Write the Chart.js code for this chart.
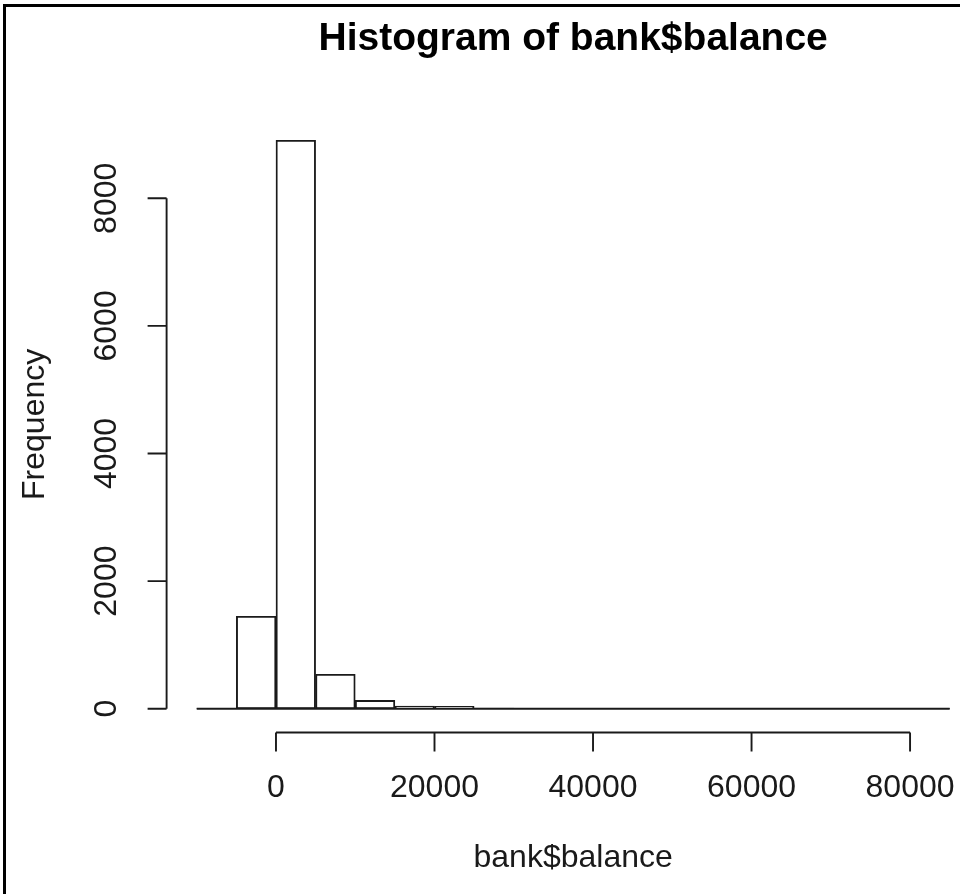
<!DOCTYPE html>
<html>
<head>
<meta charset="utf-8">
<script src="https://cdn.jsdelivr.net/npm/chart.js@4/dist/chart.umd.min.js"></script>
<style>
  html, body { margin: 0; padding: 0; background: #fff; overflow: hidden; }
  #wrap { width: 960px; height: 894px; position: relative; }
</style>
</head>
<body>
<div id="wrap"><canvas id="c" width="960" height="894"></canvas></div>
<script>
// ---- data ----
const binStarts = [-10000, -5000, 0, 5000, 10000, 15000, 20000, 25000, 30000, 35000,
                   40000, 45000, 50000, 55000, 60000, 65000, 70000, 75000, 80000];
const binWidth = 5000;
const counts = [2, 1450, 8910, 540, 130, 42, 36, 10, 7, 5, 3, 2, 1, 1, 0, 0, 1, 0, 1];
const xTicks = [0, 20000, 40000, 60000, 80000];
const yTicks = [0, 2000, 4000, 6000, 8000];
const titleText = 'Histogram of bank$balance';
const xLabel = 'bank$balance';
const yLabel = 'Frequency';

const points = binStarts.map((s, i) => ({ x: s + binWidth / 2, y: counts[i] }));

const FONT = '"Liberation Sans", Arial, sans-serif';
const INK = '#1a1a1a';
const LW = 1.9;

const rAxes = {
  id: 'rAxes',
  beforeDraw(chart) {
    const ctx = chart.ctx;
    ctx.save();
    ctx.fillStyle = '#fff';
    ctx.fillRect(0, 0, chart.width, chart.height);
    ctx.restore();
  },
  afterDatasetsDraw(chart) {
    const ctx = chart.ctx;
    const xs = chart.scales.x, ys = chart.scales.y;
    ctx.save();
    ctx.strokeStyle = INK;
    ctx.lineWidth = LW;
    // baseline of the histogram (zero-height bins)
    const y0 = ys.getPixelForValue(0);
    ctx.beginPath();
    ctx.moveTo(xs.getPixelForValue(binStarts[0]), y0);
    ctx.lineTo(xs.getPixelForValue(binStarts[binStarts.length - 1] + binWidth), y0);
    ctx.stroke();

    // x axis (R style: from first to last tick, at bottom of plot region)
    const ax = chart.chartArea.bottom + 1;
    const tl = 19;
    ctx.beginPath();
    ctx.moveTo(xs.getPixelForValue(xTicks[0]), ax);
    ctx.lineTo(xs.getPixelForValue(xTicks[xTicks.length - 1]), ax);
    xTicks.forEach(v => {
      const px = xs.getPixelForValue(v);
      ctx.moveTo(px, ax);
      ctx.lineTo(px, ax + tl);
    });
    ctx.stroke();
    ctx.fillStyle = INK;
    ctx.font = '32px ' + FONT;
    ctx.textAlign = 'center';
    ctx.textBaseline = 'alphabetic';
    xTicks.forEach(v => {
      ctx.fillText(String(v), xs.getPixelForValue(v), 797);
    });

    // y axis
    const ay = chart.chartArea.left;
    ctx.beginPath();
    ctx.moveTo(ay, ys.getPixelForValue(yTicks[0]));
    ctx.lineTo(ay, ys.getPixelForValue(yTicks[yTicks.length - 1]));
    yTicks.forEach(v => {
      const py = ys.getPixelForValue(v);
      ctx.moveTo(ay, py);
      ctx.lineTo(ay - tl, py);
    });
    ctx.stroke();
    ctx.textBaseline = 'middle';
    yTicks.forEach(v => {
      const py = ys.getPixelForValue(v);
      ctx.save();
      ctx.translate(107, py);
      ctx.rotate(-Math.PI / 2);
      ctx.fillText(String(v), 0, 0);
      ctx.restore();
    });

    // axis titles
    const cx = (chart.chartArea.left + 979.7) / 2;
    ctx.fillText(xLabel, cx, 858);
    ctx.save();
    ctx.translate(35, (chart.chartArea.top + chart.chartArea.bottom) / 2);
    ctx.rotate(-Math.PI / 2);
    ctx.fillText(yLabel, 0, 0);
    ctx.restore();

    // main title
    ctx.font = 'bold 39px ' + FONT;
    ctx.fillStyle = '#000';
    ctx.textBaseline = 'alphabetic';
    ctx.fillText(titleText, cx, 50);

    // frame (top and left edges)
    ctx.fillStyle = '#000';
    ctx.fillRect(3, 4, 957, 3);
    ctx.fillRect(3, 4, 3, 890);
    ctx.restore();
  }
};

new Chart(document.getElementById('c'), {
  type: 'bar',
  data: {
    datasets: [{
      data: points,
      backgroundColor: '#ffffff',
      borderColor: INK,
      borderWidth: LW,
      borderSkipped: false,
      barPercentage: 1,
      categoryPercentage: 1
    }]
  },
  options: {
    responsive: false,
    animation: false,
    devicePixelRatio: 1,
    layout: { padding: { left: 166.6, top: 117.2, right: 0, bottom: 162.5 } },
    plugins: { legend: { display: false }, tooltip: { enabled: false }, title: { display: false } },
    scales: {
      x: { type: 'linear', display: false, offset: false, min: -13800, max: 86300 },
      y: { type: 'linear', display: false, min: -357, max: 9271 }
    }
  },
  plugins: [rAxes]
});
</script>
</body>
</html>
